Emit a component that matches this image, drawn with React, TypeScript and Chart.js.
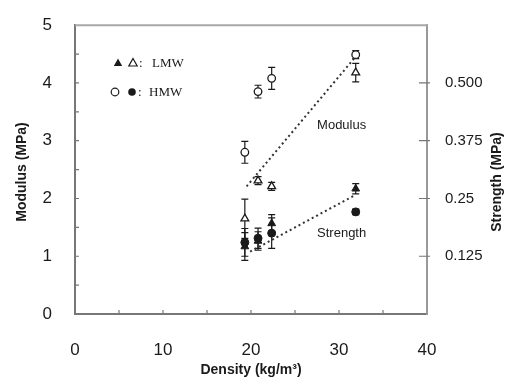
import React, { useEffect, useRef } from "react";
import { Chart, registerables } from "chart.js";

Chart.register(...registerables);

// ---- data ----
const densities = [19.3, 20.8, 22.35, 31.9];
const modulusLMW = [1.65, 2.31, 2.21, 4.18];
const modulusLMWErr = [0.34, 0.07, 0.07, 0.16];
const modulusHMW = [2.8, 3.85, 4.08, 4.49];
const modulusHMWErr = [0.19, 0.11, 0.19, 0.07];
const strengthLMW = [0.146, 0.158, 0.196, 0.271];
const strengthLMWErr = [0.03, 0.02, 0.019, 0.011];
const strengthHMW = [0.155, 0.164, 0.175, 0.221];
const strengthHMWErr = [0.03, 0.022, 0.033, 0.006];

const modulusTrendX = [19.5, 31.7];
const modulusTrendY = [2.21, 4.42];
const strengthTrendX = [19.9, 31.7];
const strengthTrendY = [0.135, 0.256];

const xMinorTicks = [5, 10, 15, 20, 25, 30, 35];
const leftMinorTicks = [0.5, 1, 1.5, 2, 2.5, 3, 3.5, 4, 4.5];
const rightTickValues = [0.125, 0.25, 0.375, 0.5];
const rightTickLabels = ["0.125", "0.25", "0.375", "0.500"];

const modulusLabel = { x: 30.3, y: 3.27, text: "Modulus" };
const strengthLabel = { x: 30.3, y: 0.174, text: "Strength" };

const SANS = "'Liberation Sans', Arial, sans-serif";
const SERIF = "'Liberation Serif', 'Times New Roman', serif";
const AXIS = "#777";
const AXIS_LIGHT = "#a8a8a8";
const INK = "#1a1a1a";

const pts = (xs: number[], ys: number[]) => xs.map((x, i) => ({ x, y: ys[i] }));

const errorBarPlugin = {
  id: "errorBars",
  beforeDatasetsDraw(chart: any) {
    const ctx = chart.ctx;
    const xs = chart.scales.x;
    ctx.save();
    ctx.strokeStyle = INK;
    ctx.lineWidth = 1.2;
    chart.data.datasets.forEach((ds: any) => {
      if (!ds.errors) return;
      const ys = chart.scales[ds.yAxisID];
      ds.data.forEach((p: any, i: number) => {
        const px = xs.getPixelForValue(p.x);
        const t = ys.getPixelForValue(p.y + ds.errors[i]);
        const b = ys.getPixelForValue(p.y - ds.errors[i]);
        ctx.beginPath();
        ctx.moveTo(px, t);
        ctx.lineTo(px, b);
        ctx.moveTo(px - 3.5, t);
        ctx.lineTo(px + 3.5, t);
        ctx.moveTo(px - 3.5, b);
        ctx.lineTo(px + 3.5, b);
        ctx.stroke();
      });
    });
    ctx.restore();
  },
};

const framePlugin = {
  id: "frame",
  afterDraw(chart: any) {
    const ctx = chart.ctx;
    const { left, right, top, bottom } = chart.chartArea;
    const xs = chart.scales.x;
    const y = chart.scales.y;
    const y1 = chart.scales.y1;
    ctx.save();
    ctx.strokeStyle = AXIS_LIGHT;
    ctx.lineWidth = 2;
    ctx.beginPath();
    ctx.moveTo(left, top);
    ctx.lineTo(right + 1, top);
    ctx.stroke();
    ctx.strokeStyle = AXIS;
    ctx.lineWidth = 1.2;
    ctx.beginPath();
    xMinorTicks.forEach((v) => {
      const px = xs.getPixelForValue(v);
      ctx.moveTo(px, bottom);
      ctx.lineTo(px, bottom - 4);
    });
    leftMinorTicks.forEach((v) => {
      const py = y.getPixelForValue(v);
      ctx.moveTo(left, py);
      ctx.lineTo(left + 4, py);
    });
    rightTickValues.forEach((v) => {
      const py = y1.getPixelForValue(v);
      ctx.moveTo(right - 8, py);
      ctx.lineTo(right + 3, py);
    });
    ctx.stroke();

    // rotated axis titles
    ctx.fillStyle = INK;
    ctx.font = `bold 14px ${SANS}`;
    ctx.textAlign = "center";
    ctx.textBaseline = "middle";
    ctx.save();
    ctx.translate(22, 172);
    ctx.rotate(-Math.PI / 2);
    ctx.fillText("Modulus (MPa)", 0, 0);
    ctx.restore();
    ctx.save();
    ctx.translate(497, 182);
    ctx.rotate(-Math.PI / 2);
    ctx.fillText("Strength (MPa)", 0, 0);
    ctx.restore();

    // curve labels
    ctx.font = `13px ${SANS}`;
    ctx.fillText(modulusLabel.text, xs.getPixelForValue(modulusLabel.x), y.getPixelForValue(modulusLabel.y));
    ctx.fillText(strengthLabel.text, xs.getPixelForValue(strengthLabel.x), y1.getPixelForValue(strengthLabel.y));

    // legend
    const tri = (cx: number, cy: number, filled: boolean) => {
      ctx.beginPath();
      ctx.moveTo(cx, cy - 4.5);
      ctx.lineTo(cx + 4.2, cy + 3);
      ctx.lineTo(cx - 4.2, cy + 3);
      ctx.closePath();
      if (filled) {
        ctx.fillStyle = INK;
        ctx.fill();
      } else {
        ctx.fillStyle = "#fff";
        ctx.fill();
        ctx.strokeStyle = INK;
        ctx.lineWidth = 1.2;
        ctx.stroke();
      }
    };
    const circ = (cx: number, cy: number, filled: boolean) => {
      ctx.beginPath();
      ctx.arc(cx, cy, 3.8, 0, Math.PI * 2);
      if (filled) {
        ctx.fillStyle = INK;
        ctx.fill();
      } else {
        ctx.fillStyle = "#fff";
        ctx.fill();
        ctx.strokeStyle = INK;
        ctx.lineWidth = 1.2;
        ctx.stroke();
      }
    };
    tri(118, 63, true);
    tri(133, 63, false);
    circ(115, 92, false);
    circ(132, 92, true);
    ctx.fillStyle = INK;
    ctx.font = `13px ${SERIF}`;
    ctx.textAlign = "left";
    ctx.fillText(":", 139, 64);
    ctx.fillText("LMW", 152, 64);
    ctx.fillText(":", 138, 93);
    ctx.fillText("HMW", 149, 93);
    ctx.restore();
  },
};

export default function App() {
  const ref = useRef<HTMLCanvasElement>(null);

  useEffect(() => {
    if (!ref.current) return;
    const chart = new Chart(ref.current, {
      type: "scatter",
      data: {
        datasets: [
          {
            type: "line",
            label: "Modulus trend",
            data: pts(modulusTrendX, modulusTrendY),
            yAxisID: "y",
            borderColor: "#333",
            borderWidth: 2,
            borderDash: [2, 3],
            pointRadius: 0,
            fill: false,
          } as any,
          {
            type: "line",
            label: "Strength trend",
            data: pts(strengthTrendX, strengthTrendY),
            yAxisID: "y1",
            borderColor: "#333",
            borderWidth: 2,
            borderDash: [2, 3],
            pointRadius: 0,
            fill: false,
          } as any,
          {
            label: "Modulus LMW",
            data: pts(densities, modulusLMW),
            errors: modulusLMWErr,
            yAxisID: "y",
            pointStyle: "triangle",
            pointRadius: 4.5,
            backgroundColor: "#fff",
            borderColor: INK,
            borderWidth: 1.3,
          } as any,
          {
            label: "Modulus HMW",
            data: pts(densities, modulusHMW),
            errors: modulusHMWErr,
            yAxisID: "y",
            pointStyle: "circle",
            pointRadius: 3.8,
            backgroundColor: "#fff",
            borderColor: INK,
            borderWidth: 1.3,
          } as any,
          {
            label: "Strength HMW",
            data: pts(densities, strengthHMW),
            errors: strengthHMWErr,
            yAxisID: "y1",
            pointStyle: "circle",
            pointRadius: 4,
            backgroundColor: INK,
            borderColor: INK,
            borderWidth: 1,
          } as any,
          {
            label: "Strength LMW",
            data: pts(densities, strengthLMW),
            errors: strengthLMWErr,
            yAxisID: "y1",
            pointStyle: "triangle",
            pointRadius: 4.5,
            backgroundColor: INK,
            borderColor: INK,
            borderWidth: 1,
          } as any,
        ],
      },
      options: {
        animation: false,
        responsive: true,
        maintainAspectRatio: false,
        layout: { padding: { top: 20, left: 0, right: 0, bottom: 0 } },
        plugins: { legend: { display: false }, tooltip: { enabled: false } },
        scales: {
          x: {
            type: "linear",
            min: 0,
            max: 40,
            grid: { display: false },
            border: { display: true, color: AXIS, width: 2 },
            ticks: { stepSize: 10, padding: 18, color: INK, font: { family: SANS, size: 17 } },
            title: {
              display: true,
              text: "Density (kg/m\u00B3)",
              color: INK,
              font: { family: SANS, size: 14, weight: "bold" },
              padding: { top: 0, bottom: 0 },
            },
            afterFit: (s: any) => {
              s.height = 65;
            },
          },
          y: {
            type: "linear",
            position: "left",
            min: 0,
            max: 5,
            grid: { display: false },
            border: { display: true, color: AXIS, width: 2 },
            ticks: { stepSize: 1, padding: 15, color: INK, font: { family: SANS, size: 17 } },
            afterFit: (s: any) => {
              s.width = 75;
            },
          },
          y1: {
            type: "linear",
            position: "right",
            min: 0,
            max: 0.625,
            grid: { display: false },
            border: { display: true, color: "#999", width: 2 },
            afterBuildTicks: (s: any) => {
              s.ticks = rightTickValues.map((v) => ({ value: v }));
            },
            ticks: {
              padding: 10,
              color: INK,
              font: { family: SANS, size: 15 },
              callback: (v: any) => {
                const i = rightTickValues.indexOf(Number(v));
                return i >= 0 ? rightTickLabels[i] : "";
              },
            },
            afterFit: (s: any) => {
              s.width = 79;
            },
          },
        },
      } as any,
      plugins: [errorBarPlugin, framePlugin],
    });
    return () => chart.destroy();
  }, []);

  return (
    <div style={{ position: "fixed", left: 0, top: 0, width: 506, height: 379, background: "#fff" }}>
      <canvas ref={ref} />
    </div>
  );
}
